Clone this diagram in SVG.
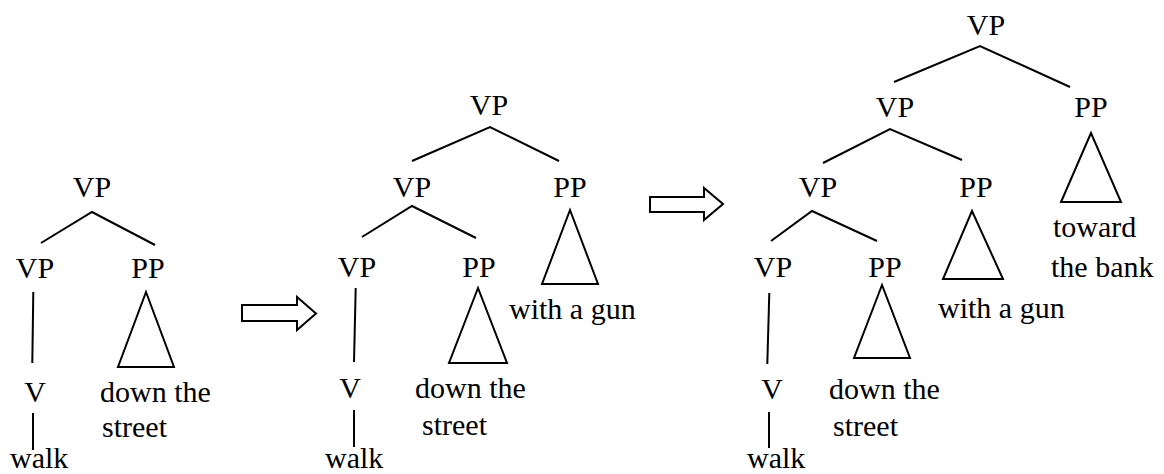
<svg xmlns="http://www.w3.org/2000/svg" width="1164" height="474" viewBox="0 0 1164 474">
  <style>
    text { font-family: 'Liberation Serif', Tinos, 'Noto Serif', 'DejaVu Serif', FreeSerif, 'Times New Roman', Times, serif; font-size: 30px; fill: #000; }
    .c { text-anchor: middle; }
    .edge { stroke: #000; stroke-width: 2; fill: none; stroke-linecap: butt; }
    .tri { stroke: #000; stroke-width: 2; fill: none; stroke-linejoin: miter; }
    .arrow { stroke: #000; stroke-width: 2; fill: #fff; }
  </style>

  <rect width="1164" height="474" fill="#fff"/>

  <!-- Tree 1 -->
  <g id="t1-vp-root"><text class="c" x="92" y="197">VP</text></g>
  <g id="t1-vp"><text class="c" x="35" y="278">VP</text></g>
  <g id="t1-pp"><text class="c" x="148" y="278">PP</text></g>
  <g id="t1-v"><text class="c" x="35" y="402">V</text></g>
  <g id="t1-walk"><text x="10" y="468">walk</text></g>
  <g id="t1-down">
    <polygon class="tri" points="146,292 118,367 174,367"/>
    <text x="100" y="402">down the</text>
    <text x="102" y="437">street</text>
  </g>

  <!-- Arrow 1 -->
  <g id="arrow1">
    <polygon class="arrow" points="242,305 297,305 297,297 316,313.5 297,330 297,321 242,321"/>
  </g>

  <!-- Tree 2 -->
  <g id="t2-vp-root"><text class="c" x="489" y="115">VP</text></g>
  <g id="t2-vp1"><text class="c" x="412" y="197">VP</text></g>
  <g id="t2-pp1">
    <text class="c" x="570" y="197">PP</text>
    <polygon class="tri" points="570,210 542,284 598,284"/>
    <text x="509" y="319">with a gun</text>
  </g>
  <g id="t2-vp2"><text class="c" x="357" y="277">VP</text></g>
  <g id="t2-pp2">
    <text class="c" x="479" y="277">PP</text>
    <polygon class="tri" points="478,288 449,363 507,363"/>
    <text x="415" y="398">down the</text>
    <text x="422" y="435">street</text>
  </g>
  <g id="t2-v"><text class="c" x="350" y="398">V</text></g>
  <g id="t2-walk"><text x="325" y="468">walk</text></g>

  <!-- Arrow 2 -->
  <g id="arrow2">
    <polygon class="arrow" points="650,197 704,197 704,188 723,204 704,220 704,212 650,212"/>
  </g>

  <!-- Tree 3 -->
  <g id="t3-vp-root"><text class="c" x="986" y="35">VP</text></g>
  <g id="t3-vp1"><text class="c" x="895" y="117">VP</text></g>
  <g id="t3-pp1">
    <text class="c" x="1091" y="117">PP</text>
    <polygon class="tri" points="1091,133 1061,202 1121,202"/>
    <text x="1053" y="237">toward</text>
    <text x="1051" y="277">the bank</text>
  </g>
  <g id="t3-vp2"><text class="c" x="818" y="197">VP</text></g>
  <g id="t3-pp2">
    <text class="c" x="976" y="197">PP</text>
    <polygon class="tri" points="972,211 943,279 1003,279"/>
    <text x="938" y="318">with a gun</text>
  </g>
  <g id="t3-vp3"><text class="c" x="773" y="277">VP</text></g>
  <g id="t3-pp3">
    <text class="c" x="885" y="277">PP</text>
    <polygon class="tri" points="882,285 854,358 910,358"/>
    <text x="829" y="399">down the</text>
    <text x="833" y="436">street</text>
  </g>
  <g id="t3-v"><text class="c" x="772" y="399">V</text></g>
  <g id="t3-walk"><text x="747" y="468">walk</text></g>

  <!-- Branches -->
  <g id="connectors">
    <!-- tree 1 -->
    <polyline class="edge" points="41,243 92,212 155,245"/>
    <line class="edge" x1="33.3" y1="292" x2="32.3" y2="363"/>
    <line class="edge" x1="33" y1="413" x2="33" y2="450"/>
    <!-- tree 2 -->
    <polyline class="edge" points="412,161 490,127 559,161"/>
    <polyline class="edge" points="362,237 412,206 476,238"/>
    <line class="edge" x1="355.7" y1="288" x2="354" y2="362"/>
    <line class="edge" x1="354" y1="410" x2="354" y2="447"/>
    <!-- tree 3 -->
    <polyline class="edge" points="894,82 980,46 1070,87"/>
    <polyline class="edge" points="823,163 890,129 962,160"/>
    <polyline class="edge" points="771,241 812,211 877,241"/>
    <line class="edge" x1="769.3" y1="293" x2="767.3" y2="364"/>
    <line class="edge" x1="769" y1="412" x2="769" y2="448"/>
  </g>
</svg>
